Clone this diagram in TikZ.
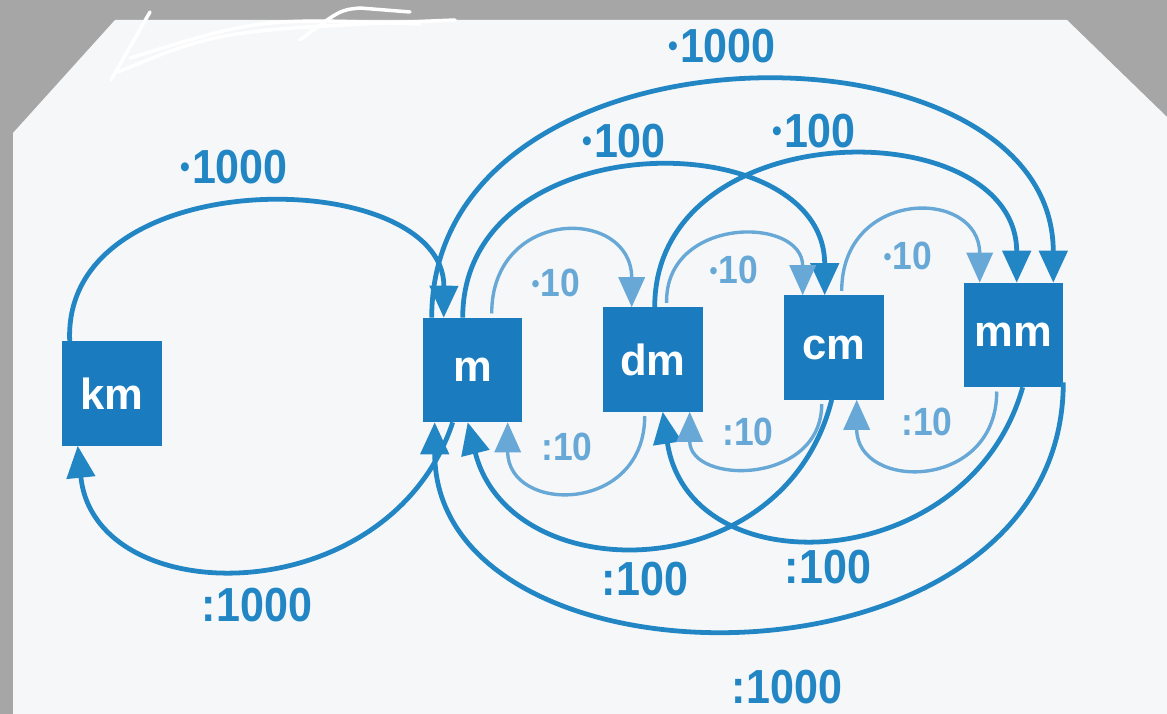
\documentclass[tikz,border=0pt]{standalone}
\usepackage{fontspec}
\setmainfont{Liberation Sans}
\newfontfamily\labfont[FakeStretch=0.9]{Liberation Sans}
\usetikzlibrary{arrows.meta,calc}
\definecolor{boxblue}{RGB}{26,124,190}
\definecolor{darkline}{RGB}{34,134,197}
\definecolor{lightline}{RGB}{104,168,214}
\definecolor{paper}{RGB}{245,247,249}
\definecolor{framegray}{RGB}{166,166,166}
\newcommand{\bigdot}{{\fontsize{22}{22}\selectfont\raisebox{4pt}{\textbullet}}\kern1.5pt}
\newcommand{\smalldot}{{\fontsize{18}{18}\selectfont\raisebox{3pt}{\textbullet}}\kern1pt}
\begin{document}
\begin{tikzpicture}[x=0.025cm,y=-0.025cm,
 unitbox/.style={rectangle, fill=boxblue, minimum width=2.475cm, minimum height=2.6cm, inner sep=0pt, text=white, font=\fontsize{31}{31}\selectfont\bfseries},
 bigarc/.style={draw=darkline, line width=3.4pt, -{Triangle[length=0.8cm,width=0.7cm]}},
 smallarc/.style={draw=lightline, line width=2.4pt, shorten <=3pt, -{Triangle[length=0.75cm,width=0.65cm]}},
 biglab/.style={text=darkline, font=\labfont\fontsize{34}{34}\selectfont\bfseries, inner sep=0pt},
 smalllab/.style={text=lightline, font=\labfont\fontsize{28}{28}\selectfont\bfseries, inner sep=0pt},
 scribble/.style={draw=white, line width=2.5pt, line cap=round}]
% page and scan frame
\useasboundingbox (0,0) rectangle (1167,714);
\fill[framegray] (0,0) rectangle (1167,714);
\fill[paper] (13,714) -- (13,133) -- (115,20) -- (1067,20) -- (1167,117) -- (1167,714) -- cycle;
\draw[scribble] (111,80) -- (150,12);
\draw[scribble] (118,72) .. controls (220,30) .. (455,20);
\draw[scribble] (130,58) .. controls (260,18) .. (420,24);
\draw[scribble] (300,40) .. controls (340,10) .. (360,8) -- (410,12);
% unit boxes
\node[unitbox] (km) at (112,393.5) {km};
\node[unitbox] (m)  at (472.5,370) {m};
\node[unitbox] (dm) at (653,359.5) {dm};
\node[unitbox] (cm) at (834,347.5) {cm};
\node[unitbox] (mm) at (1013.5,335) {mm};
% multiplication arcs (top)
\draw[bigarc] ($(km.north west)+(7.5,0)$) .. controls +(-8,-182) and +(1,-153) .. ($(m.north west)+(21,0)$);
\draw[bigarc] ($(m.north west)+(9,0)$) .. controls +(0,-308) and +(0,-273) .. ($(mm.north east)+(-10,0)$);
\draw[bigarc] ($(m.north west)+(40,0)$) .. controls +(0,-196) and +(0,-173.5) .. ($(cm.north west)+(40.5,0)$);
\draw[bigarc] ($(dm.north west)+(51.5,0)$) .. controls +(0,-196.5) and +(0,-172) .. ($(mm.north west)+(53,0)$);
\draw[smallarc] ($(m.north west)+(69,0)$) .. controls +(0,-111) and +(0,-100.5) .. ($(dm.north west)+(28.5,0)$);
\draw[smallarc] ($(dm.north west)+(63.5,0)$) .. controls +(-2,-91.5) and +(0,-79.5) .. ($(cm.north west)+(18.5,0)$);
\draw[smallarc] ($(cm.north west)+(57.5,0)$) .. controls +(0,-107.5) and +(0,-95) .. ($(mm.north west)+(16,0)$);
% division arcs (bottom)
\draw[bigarc] ($(m.south west)+(30,0)$) .. controls +(-63,191) and +(17,167.5) .. ($(km.south west)+(15.5,0)$);
\draw[bigarc] ($(mm.south east)+(0,-5)$) .. controls +(0,321) and +(0,281) .. ($(m.south west)+(12,0)$);
\draw[bigarc] ($(cm.south west)+(47.5,0)$) .. controls +(-48,190.5) and +(42,168) .. ($(m.south west)+(45,0)$);
\draw[bigarc] ($(mm.south west)+(59,0)$) .. controls +(-53,188) and +(27,178.5) .. ($(dm.south west)+(59.5,0)$);
\draw[smallarc] ($(dm.south west)+(41.5,0)$) .. controls +(0,102.5) and +(0,92) .. ($(m.south west)+(85,0)$);
\draw[smallarc] ($(cm.south west)+(37.5,0)$) .. controls +(0,85.5) and +(0,73.5) .. ($(dm.south west)+(86.5,0)$);
\draw[smallarc] ($(mm.south west)+(33,0)$) .. controls +(0,104) and +(0,91.5) .. ($(cm.south west)+(72.5,0)$);
% labels
\node[biglab] (t1) at (234,167) {\bigdot 1000};
\node[biglab] (t2) at (722,46) {\bigdot 1000};
\node[biglab] (t3) at (624,141) {\bigdot 100};
\node[biglab] (t4) at (814,131) {\bigdot 100};
\node[smalllab] (t5) at (556,283) {\smalldot 10};
\node[smalllab] (t6) at (734,270) {\smalldot 10};
\node[smalllab] (t7) at (908,256) {\smalldot 10};
\node[biglab] (b1) at (257,605) {:1000};
\node[biglab] (b2) at (787,687) {:1000};
\node[biglab] (b3) at (645,579) {:100};
\node[biglab] (b4) at (828,567) {:100};
\node[smalllab] (b5) at (567,447) {:10};
\node[smalllab] (b6) at (748,432) {:10};
\node[smalllab] (b7) at (927,422) {:10};
\end{tikzpicture}
\end{document}
